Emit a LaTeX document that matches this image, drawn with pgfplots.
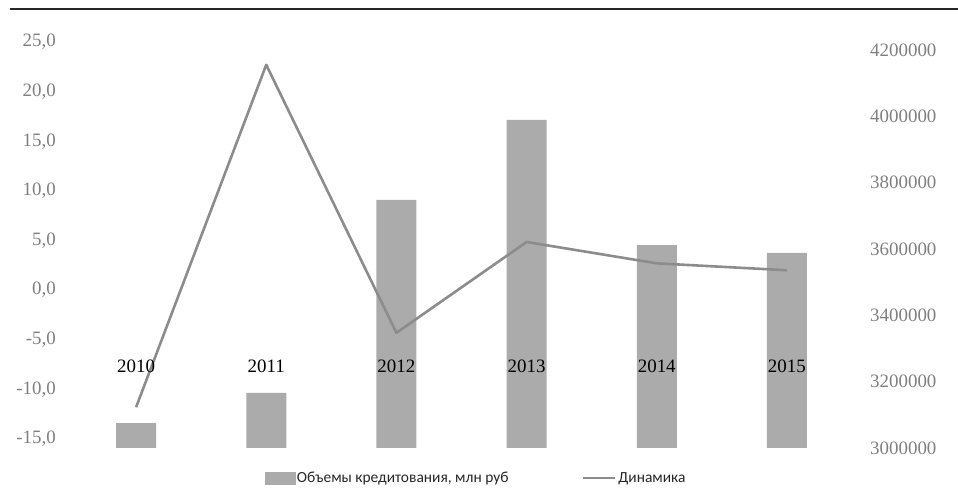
\documentclass[border=0pt]{standalone}
\usepackage{pgfplots}
\pgfplotsset{compat=1.18}
\usepackage{fontspec}
\setmainfont{Carlito}
\newfontfamily\numfont{Liberation Serif}
\begin{document}
\begin{tikzpicture}
\useasboundingbox (-71bp,-46bp) rectangle (887bp,448bp);
\draw[line width=1.6bp, black!85] (-61bp,439bp) -- (887bp,439bp);
% bars (right axis)
\begin{axis}[
  at={(0bp,0bp)}, anchor=south west,
  scale only axis, width=781bp, height=406bp,
  xmin=-0.5, xmax=5.5,
  ymin=3000000, ymax=4224120,
  axis y line*=right,
  axis x line=none,
  axis line style={draw=none},
  major tick length=0pt,
  ytick={3000000,3200000,3400000,3600000,3800000,4000000,4200000},
  yticklabels={3000000,3200000,3400000,3600000,3800000,4000000,4200000},
  yticklabel style={font=\numfont\fontsize{19}{22}\selectfont, text=black!50, anchor=west, inner sep=0pt, xshift=18bp},
  scaled y ticks=false,
]
\addplot[ybar, bar width=40bp, fill=black!33, draw=none] coordinates {
  (0,3075000) (1,3166000) (2,3748000) (3,3989000) (4,3612000) (5,3588000)};
\end{axis}
% line (left axis)
\begin{axis}[
  at={(0bp,0bp)}, anchor=south west,
  scale only axis, width=781bp, height=406bp,
  xmin=-0.5, xmax=5.5,
  ymin=-15.907, ymax=25,
  axis y line*=left,
  axis x line*=bottom,
  axis line style={draw=none},
  axis on top,
  major tick length=0pt,
  xtick={0,1,2,3,4,5},
  xticklabels={2010,2011,2012,2013,2014,2015},
  xticklabel style={font=\numfont\fontsize{19}{22}\selectfont, text=black, anchor=center, inner sep=0pt, yshift=82bp},
  ytick={-15,-10,-5,0,5,10,15,20,25},
  yticklabel style={font=\numfont\fontsize{19}{22}\selectfont, text=black!50, anchor=east, inner sep=0pt, xshift=-15bp,
    /pgf/number format/.cd, fixed, fixed zerofill, precision=1, use comma, assume math mode=true},
  legend columns=2,
  legend style={at={(0.5186,-0.0739)}, anchor=center, draw=none, fill=none,
    font=\fontsize{15.5}{18}\selectfont, text=black!85,
    /tikz/every even column/.append style={column sep=72bp},
    nodes={inner sep=2bp}},
]
\addlegendimage{legend image code/.code={\fill[black!33] (0bp,-6bp) rectangle (30bp,6bp);}}
\addlegendentry{Объемы кредитования, млн руб}
\addplot[black!45, line width=2.6bp, line join=round, legend image code/.code={\draw[black!45, line width=2bp] (0bp,0bp) -- (32bp,0bp);}] coordinates {
  (0,-11.8) (1,22.7) (2,-4.3) (3,4.85) (4,2.7) (5,2.0)};
\addlegendentry{Динамика}
\end{axis}
\end{tikzpicture}
\end{document}
